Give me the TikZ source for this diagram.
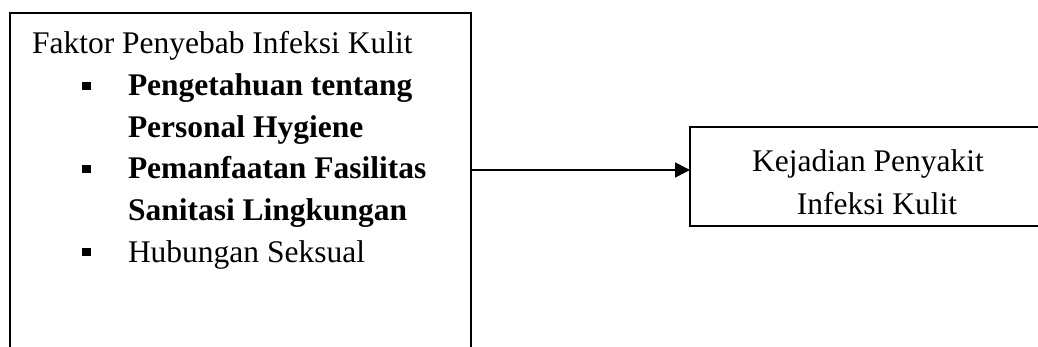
\documentclass[tikz,border=0pt]{standalone}
\usepackage{fontspec}
\setmainfont{Liberation Serif}
\usetikzlibrary{arrows.meta}
\tikzset{
  box/.style={draw=black, line width=1.5pt, rectangle, inner sep=0pt, outer sep=0pt},
  txt/.style={inner sep=0pt, outer sep=0pt, font=\fontsize{31.5}{40}\selectfont},
  btxt/.style={txt, font=\fontsize{31.5}{40}\selectfont\bfseries},
  bul/.style={fill=black, draw=none, rectangle, minimum size=8.5pt, inner sep=0pt},
  arr/.style={draw=black, line width=1.6pt, -{Triangle[length=15pt,width=15pt]}}
}
\begin{document}
\begin{tikzpicture}[x=1pt,y=-1pt]
\useasboundingbox (0,0) rectangle (1038,347);
\clip (0,0) rectangle (1038,347);
\fill[white] (0,0) rectangle (1038,347);
% boxes
\node[box, anchor=north west, minimum width=461pt, minimum height=420pt] (cause) at (10,13) {};
\node[box, anchor=north west, minimum width=420pt, minimum height=99pt] (effect) at (690,127) {};
% left text
\node[txt, anchor=base west] (title) at (32,53.5) {Faktor Penyebab Infeksi Kulit};
\node[bul] (b1) at (86.5,86) {};
\node[btxt, anchor=base west] (l1) at (128,96) {Pengetahuan tentang};
\node[btxt, anchor=base west] (l2) at (128,137.5) {Personal Hygiene};
\node[bul] (b2) at (86.5,169) {};
\node[btxt, anchor=base west] (l3) at (128,179) {Pemanfaatan Fasilitas};
\node[btxt, anchor=base west] (l4) at (128,220.5) {Sanitasi Lingkungan};
\node[bul] (b3) at (86.5,252) {};
\node[txt, anchor=base west] (l5) at (128,262) {Hubungan Seksual};
% right text
\node[txt, anchor=base] (e1) at (868,172) {Kejadian Penyakit};
\node[txt, anchor=base] (e2) at (877,215) {Infeksi Kulit};
% arrow
\coordinate (ay) at (0,170);
\draw[arr] (ay -| cause.east) -- (ay -| effect.west);
\end{tikzpicture}
\end{document}
